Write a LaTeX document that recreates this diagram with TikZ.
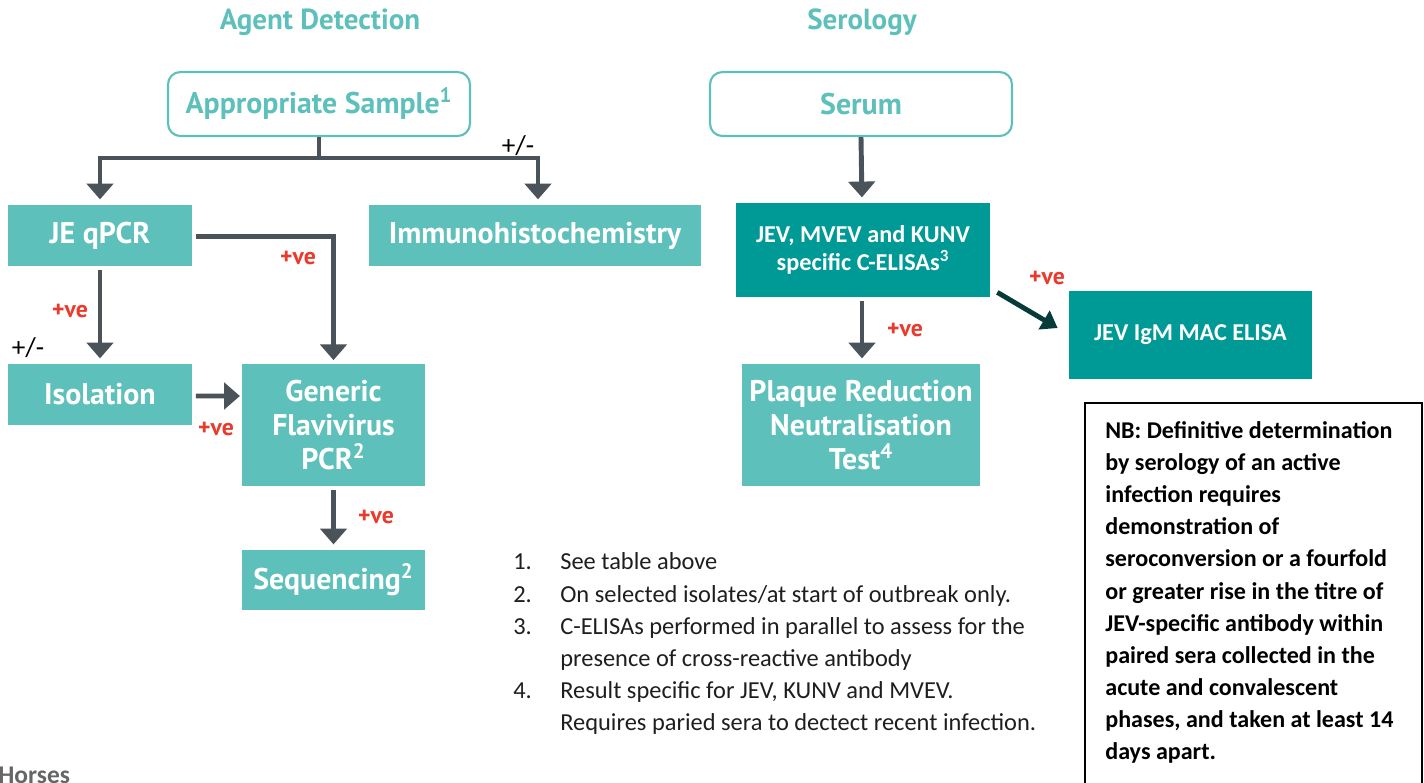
\documentclass[tikz,border=0pt]{standalone}
\usepackage{fontspec}
\setmainfont{Carlito}
\newfontfamily\dinfont{PT Sans}
\usetikzlibrary{arrows.meta}

\definecolor{lightteal}{HTML}{5EC0BB}
\definecolor{darkteal}{HTML}{009A96}
\definecolor{arrowgrey}{HTML}{4A525A}
\definecolor{posred}{HTML}{EA3A2C}
\definecolor{deepteal}{HTML}{073B3A}
\definecolor{notegrey}{HTML}{1E1E1E}

\tikzset{
  box/.style={fill=lightteal, text=white, align=center, inner sep=0pt,
    font=\dinfont\bfseries\fontsize{17}{19.5}\selectfont},
  darkbox/.style={fill=darkteal, text=white, align=center, inner sep=0pt,
    font=\bfseries\fontsize{13.8}{16}\selectfont},
  startbox/.style={draw=lightteal, line width=1.2pt, rounded corners=7pt, fill=white,
    text=lightteal, inner sep=0pt, font=\dinfont\bfseries\fontsize{17}{19}\selectfont},
  flow/.style={draw=arrowgrey, line width=2.8pt, -{Triangle[width=15pt,length=9pt]}},
  posve/.style={text=posred, font=\dinfont\bfseries\fontsize{13.5}{15}\selectfont},
  title/.style={text=lightteal, font=\dinfont\bfseries\fontsize{16.5}{19}\selectfont}
}

\begin{document}
\begin{tikzpicture}[x=0.02cm, y=-0.02cm]
      \useasboundingbox (0,0) rectangle (1424,782);
      \clip (0,0) rectangle (1424,782);

      % headings
      \node [title] (agenthead) at (320,22) {Agent Detection};
      \node [title] (serohead) at (862,22) {Serology};

      % agent detection column
      \node [startbox, minimum width=6.04cm, minimum height=1.28cm] (sample) at (319,104) {Appropriate Sample\textsuperscript{1}};
      \node [box, minimum width=3.68cm, minimum height=1.22cm] (qpcr) at (100,235.5) {JE qPCR};
      \node [box, minimum width=6.66cm, minimum height=1.22cm] (ihc) at (535,235.5) {Immunohistochemistry};
      \node [box, minimum width=3.68cm, minimum height=1.22cm] (isol) at (100,394.5) {Isolation};
      \node [box, minimum width=3.66cm, minimum height=2.44cm] (flavi) at (333.5,425) {Generic\\Flavivirus\\PCR\textsuperscript{2}};
      \node [box, minimum width=3.66cm, minimum height=1.2cm] (seq) at (333.5,580) {Sequencing\textsuperscript{2}};

      \coordinate (split) at (319,158);
      \draw [flow, -] (sample.south) -- (split);
      \draw [flow, shorten >=3pt] (split) -| (qpcr.north);
      \draw [flow, shorten >=3pt] (split) -| ([shift={(3,0)}]ihc.north);
      \draw [flow, shorten >=3pt, shorten <=2pt] (qpcr.south) -- (isol.north);
      \draw [flow, shorten >=2pt, shorten <=2pt] ([shift={(0,1)}]qpcr.east) -| (flavi.north);
      \draw [flow, shorten >=1pt, shorten <=2pt] ([shift={(0,1.5)}]isol.east) -- ([shift={(0,-29)}]flavi.west);
      \draw [flow, shorten >=3pt, shorten <=2pt] (flavi.south) -- (seq.north);

      \node [black, font=\fontsize{15.5}{17}\selectfont] (pm1) at (518,146) {+/-};
      \node [black, font=\fontsize{15.5}{17}\selectfont] (pm2) at (28,348) {+/-};
      \node [posve] (ve1) at (70,311) {+ve};
      \node [posve] (ve2) at (298,258) {+ve};
      \node [posve] (ve3) at (216,429) {+ve};
      \node [posve] (ve4) at (376,517) {+ve};

      % serology column
      \node [startbox, minimum width=6.04cm, minimum height=1.28cm] (serum) at (861,104) {Serum};
      \node [darkbox, minimum width=5.08cm, minimum height=1.88cm] (celisa) at (863,250) {JEV, MVEV and KUNV\\specific C-ELISAs\textsuperscript{3}};
      \node [box, minimum width=4.76cm, minimum height=2.44cm] (prnt) at (861,425) {Plaque Reduction\\Neutralisation\\Test\textsuperscript{4}};
      \node [darkbox, minimum width=4.86cm, minimum height=1.76cm] (igm) at (1190.5,335) {JEV IgM MAC ELISA};

      \draw [flow, shorten >=3pt] (serum.south) -- ([shift={(-1,0)}]celisa.north);
      \draw [flow, shorten >=3pt, shorten <=2pt] ([shift={(-1,0)}]celisa.south) -- ([shift={(1,0)}]prnt.north);
      \draw [draw=deepteal, line width=2.8pt, -{Triangle[width=12pt,length=9pt]}]
        ([shift={(7,-5)}]celisa.south east) -- ([shift={(-11,-7)}]igm.west);

      \node [posve] (ve5) at (905,330) {+ve};
      \node [posve] (ve6) at (1047,278) {+ve};

      % note box
      \draw [black, line width=0.9pt] (1085,403) rectangle (1422,800);
      \node [anchor=north west, align=left, inner sep=0pt, text=black,
        font=\bfseries\fontsize{13.7}{18.3}\selectfont] (nb) at (1105,421)
        {NB: Definitive determination\\by serology of an active\\infection requires\\demonstration of\\seroconversion or a fourfold\\or greater rise in the titre of\\JEV-specific antibody within\\paired sera collected in the\\acute and convalescent\\phases, and taken at least 14\\days apart.};

      % footnotes
      \node [anchor=north west, inner sep=0pt, text=notegrey,
        font=\fontsize{13.9}{18.3}\selectfont] (notes) at (513,547)
        {\begin{tabular}{@{}p{0.94cm}@{}l@{}}
          1. & See table above\\
          2. & On selected isolates/at start of outbreak only.\\
          3. & C-ELISAs performed in parallel to assess for the\\
             & presence of cross-reactive antibody\\
          4. & Result specific for JEV, KUNV and MVEV.\\
             & Requires paried sera to dectect recent infection.
        \end{tabular}};

      \node [anchor=north west, inner sep=0pt, text=black!60,
        font=\bfseries\fontsize{14.5}{16}\selectfont] (horses) at (-2,767) {Horses};
  \end{tikzpicture}
\end{document}
